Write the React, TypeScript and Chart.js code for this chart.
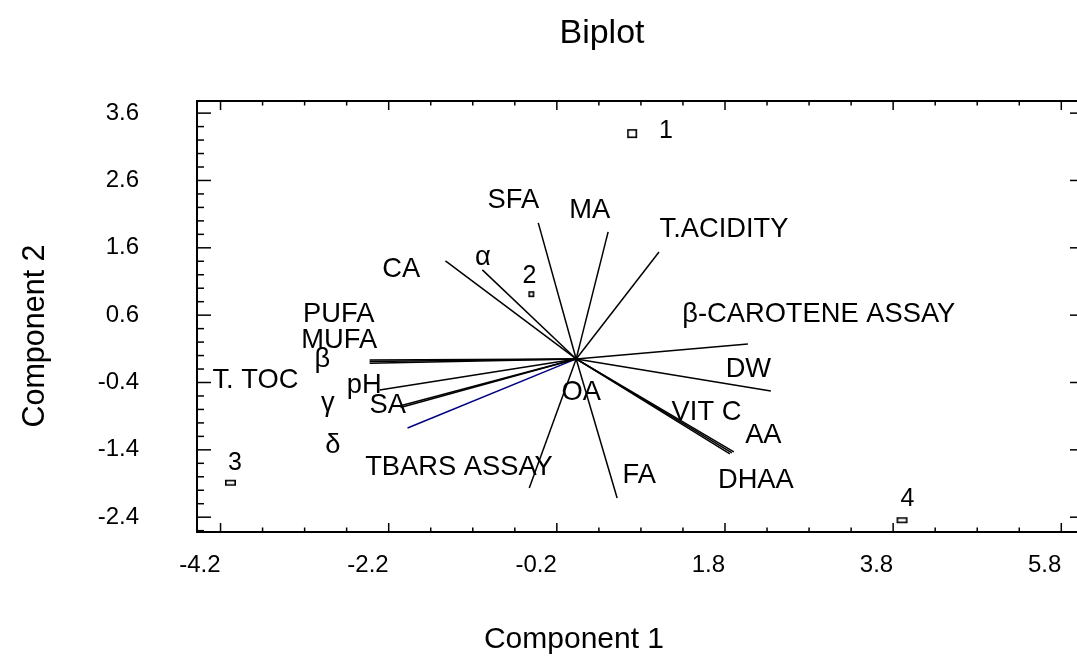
import { useEffect, useRef } from 'react';
import { Chart, registerables } from 'chart.js';

Chart.register(...registerables);

// ---- axis ticks ----
const xMajorTicks = [-4.2, -2.2, -0.2, 1.8, 3.8, 5.8];
const xMinorTicks = [-3.7, -3.2, -2.7, -1.7, -1.2, -0.7, 0.3, 0.8, 1.3, 2.3, 2.8, 3.3, 4.3, 4.8, 5.3];
const yMajorTicks = [-2.4, -1.4, -0.4, 0.6, 1.6, 2.6, 3.6];
const yMinorTicks = [-2.6, -2.2, -2.0, -1.8, -1.6, -1.2, -1.0, -0.8, -0.6, -0.2, 0.0, 0.2, 0.4, 0.8, 1.0, 1.2, 1.4, 1.8, 2.0, 2.2, 2.4, 2.8, 3.0, 3.2, 3.4];

// ---- variable loadings (vectors drawn from the plotted origin) ----
const vectorOriginX = 0.03;
const vectorOriginY = -0.05;
const variableNames = ['SFA', 'MA', 'T.ACIDITY', 'CA', 'α', 'PUFA', 'MUFA', 'T. TOC', 'pH', 'SA', 'γ', 'δ', 'TBARS ASSAY', 'FA', 'β-CAROTENE ASSAY', 'DW', 'VIT C', 'AA', 'DHAA'];
const loadingX = [-0.451, 0.380, 0.985, -1.555, -1.116, -2.457, -2.457, -2.457, -2.338, -2.101, -2.089, -2.006, -0.558, 0.487, 2.042, 2.315, 1.875, 1.852, 1.828];
const loadingY = [2.020, 1.886, 1.589, 1.456, 1.322, -0.015, -0.040, -0.064, -0.460, -0.698, -0.720, -1.025, -1.916, -2.064, 0.223, -0.475, -1.381, -1.396, -1.411];
const vectorColors = ['#000', '#000', '#000', '#000', '#000', '#000', '#000', '#000', '#000', '#000', '#000', '#000080', '#000', '#000', '#000', '#000', '#000', '#000', '#000'];

// ---- variable label anchors (data units: centre x, baseline y) ----
const labelTexts = ['SFA', 'MA', 'T.ACIDITY', 'CA', 'α', 'PUFA', 'MUFA', 'β', 'T. TOC', 'pH', 'SA', 'γ', 'δ', 'TBARS ASSAY', 'OA', 'FA', 'β-CAROTENE ASSAY', 'DW', 'VIT C', 'AA', 'DHAA'];
const labelX = [-0.717, 0.191, 1.788, -2.052, -1.079, -2.794, -2.788, -2.990, -3.785, -2.491, -2.212, -2.925, -2.865, -1.364, 0.090, 0.779, 2.915, 2.078, 1.580, 2.256, 2.167];
const labelY = [2.189, 2.041, 1.759, 1.164, 1.343, 0.496, 0.110, -0.172, -0.484, -0.558, -0.855, -0.826, -1.450, -1.776, -0.662, -1.895, 0.496, -0.321, -0.959, -1.301, -1.969];

// ---- observation scores ----
const obsNames = ['1', '2', '3', '4'];
const obsX = [0.696, -0.503, -4.082, 3.906];
const obsY = [3.296, 0.912, -1.888, -2.445];
const obsLabelX = [1.099, -0.527, -4.028, 3.971];
const obsLabelY = [3.229, 1.079, -1.702, -2.235];
const obsMarkerW = [10, 6, 11, 11];
const obsMarkerH = [9, 6, 6, 6];

const FONT = '"Liberation Sans", Arial, Helvetica, sans-serif';

function makeMarker(w: number, h: number): HTMLCanvasElement {
  const c = document.createElement('canvas');
  c.width = w + 2;
  c.height = h + 2;
  const g = c.getContext('2d')!;
  g.strokeStyle = '#000';
  g.lineWidth = 1.6;
  g.strokeRect(1.8, 1.8, w - 1.6, h - 1.6);
  return c;
}

const overlayPlugin = {
  id: 'biplotOverlay',
  afterDatasetsDraw(chart: any) {
    const { ctx, chartArea: a, scales } = chart;
    const xs = scales.x;
    const ys = scales.y;
    ctx.save();
    ctx.strokeStyle = '#000';
    ctx.lineWidth = 2;
    ctx.strokeRect(a.left, a.top, a.right - a.left, a.bottom - a.top);
    ctx.lineWidth = 1.5;
    const seg = (x1: number, y1: number, x2: number, y2: number) => {
      ctx.beginPath();
      ctx.moveTo(x1, y1);
      ctx.lineTo(x2, y2);
      ctx.stroke();
    };
    xMajorTicks.forEach((v) => {
      const p = xs.getPixelForValue(v);
      seg(p, a.bottom, p, a.bottom - 9);
      seg(p, a.top, p, a.top + 9);
    });
    xMinorTicks.forEach((v) => {
      const p = xs.getPixelForValue(v);
      seg(p, a.bottom, p, a.bottom - 4.5);
      seg(p, a.top, p, a.top + 4.5);
    });
    yMajorTicks.forEach((v) => {
      const p = ys.getPixelForValue(v);
      seg(a.left, p, a.left + 14, p);
      seg(a.right, p, a.right - 14, p);
    });
    yMinorTicks.forEach((v) => {
      const p = ys.getPixelForValue(v);
      seg(a.left, p, a.left + 7, p);
      seg(a.right, p, a.right - 7, p);
    });

    ctx.fillStyle = '#000';
    ctx.textAlign = 'center';
    ctx.textBaseline = 'alphabetic';
    ctx.font = `27.3px ${FONT}`;
    labelTexts.forEach((t, i) => {
      ctx.fillText(t, xs.getPixelForValue(labelX[i]), ys.getPixelForValue(labelY[i]));
    });
    ctx.font = `25px ${FONT}`;
    obsNames.forEach((t, i) => {
      ctx.fillText(t, xs.getPixelForValue(obsLabelX[i]), ys.getPixelForValue(obsLabelY[i]));
    });

    // titles
    ctx.font = `34px ${FONT}`;
    ctx.fillText('Biplot', 602, 43);
    ctx.font = `30px ${FONT}`;
    ctx.fillText('Component 1', 574, 648);
    ctx.save();
    ctx.translate(44, 336);
    ctx.rotate(-Math.PI / 2);
    ctx.font = `30.5px ${FONT}`;
    ctx.fillText('Component 2', 0, 0);
    ctx.restore();
    ctx.restore();
  },
};

export default function App() {
  const ref = useRef<HTMLCanvasElement | null>(null);
  useEffect(() => {
    if (!ref.current) return;
    const markers = obsMarkerW.map((w, i) => makeMarker(w, obsMarkerH[i]));
    const vectorSets = variableNames.map((name, i) => ({
      label: name,
      data: [
        { x: vectorOriginX, y: vectorOriginY },
        { x: vectorOriginX + loadingX[i], y: vectorOriginY + loadingY[i] },
      ],
      showLine: true,
      borderColor: vectorColors[i],
      borderWidth: 1.5,
      pointRadius: 0,
      pointHoverRadius: 0,
      fill: false,
    }));
    const chart = new Chart(ref.current, {
      type: 'scatter',
      data: {
        datasets: [
          ...vectorSets,
          {
            label: 'Observations',
            data: obsX.map((x, i) => ({ x, y: obsY[i] })),
            pointStyle: markers as any,
            pointRadius: 5,
            showLine: false,
          } as any,
        ],
      },
      options: {
        animation: false,
        responsive: false,
        devicePixelRatio: 1,
        events: [],
        layout: { padding: { top: 101, right: 4, left: 0, bottom: 0 } },
        plugins: {
          legend: { display: false },
          title: { display: false },
          tooltip: { enabled: false },
        },
        scales: {
          x: {
            type: 'linear',
            min: -4.48,
            max: 6.07,
            grid: { display: false, drawTicks: false },
            border: { display: false },
            afterBuildTicks: (s: any) => {
              s.ticks = xMajorTicks.map((v) => ({ value: v }));
            },
            afterFit: (s: any) => {
              s.height = 132;
              s.paddingLeft = 0;
              s.paddingRight = 0;
            },
            ticks: {
              padding: 19,
              align: 'end',
              color: '#000',
              font: { family: FONT, size: 24 },
              maxRotation: 0,
              autoSkip: false,
              callback: (v: any) => Number(v).toFixed(1),
            },
          },
          y: {
            type: 'linear',
            min: -2.62,
            max: 3.78,
            grid: { display: false, drawTicks: false },
            border: { display: false },
            afterBuildTicks: (s: any) => {
              s.ticks = yMajorTicks.map((v) => ({ value: v }));
            },
            afterFit: (s: any) => {
              s.width = 197;
              s.paddingTop = 0;
              s.paddingBottom = 0;
            },
            ticks: {
              padding: 58,
              color: '#000',
              font: { family: FONT, size: 24 },
              autoSkip: false,
              callback: (v: any) => Number(v).toFixed(1),
            },
          },
        },
      },
      plugins: [overlayPlugin],
    });
    return () => chart.destroy();
  }, []);
  return (
    <div style={{ position: 'fixed', left: 0, top: 0, width: 1077, height: 664, overflow: 'hidden', background: '#fff' }}>
      <canvas ref={ref} width={1090} height={664} style={{ display: 'block', width: 1090, height: 664 }} />
    </div>
  );
}
